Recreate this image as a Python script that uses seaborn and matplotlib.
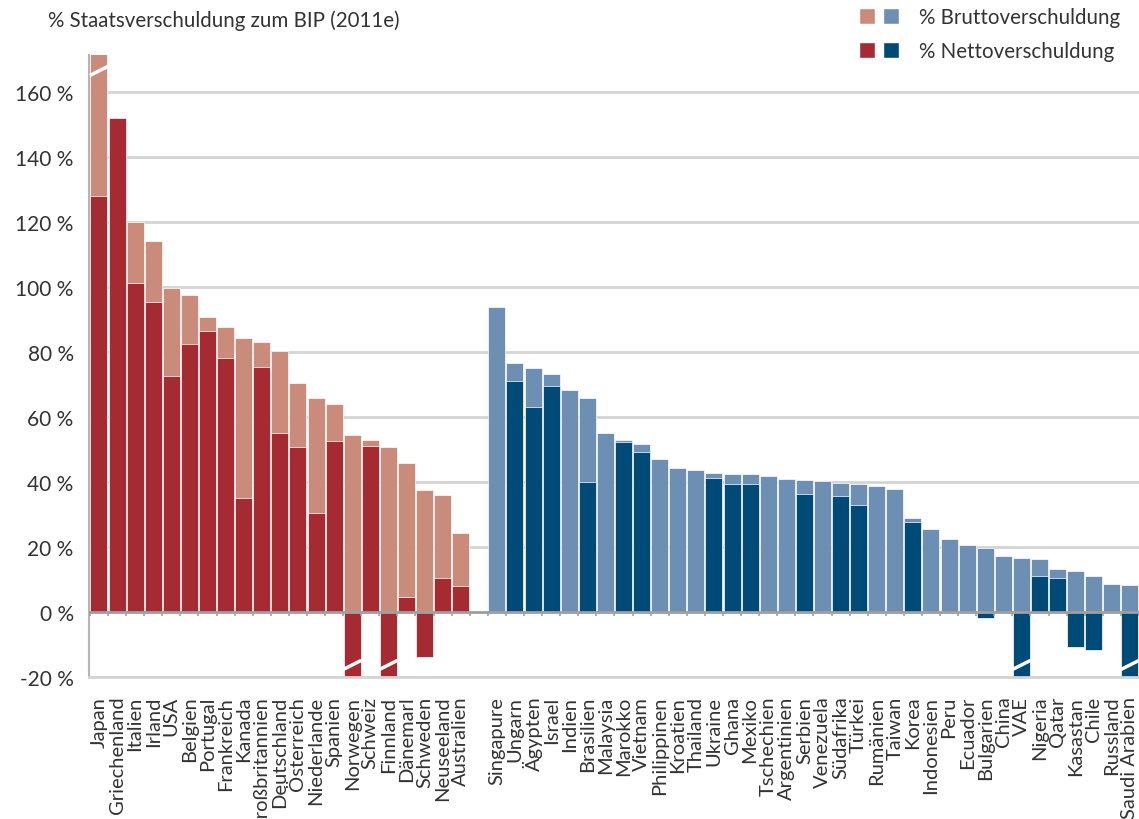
import matplotlib
matplotlib.use("Agg")
import matplotlib.pyplot as plt
from matplotlib.patches import Patch
from matplotlib.legend_handler import HandlerTuple
import numpy as np
import pandas as pd
import seaborn as sns

sns.set_style("white")
plt.rcParams["font.family"] = ["Lato", "DejaVu Sans"]

# Industrieländer
ind_laender = ["Japan", "Griechenland", "Italien", "Irland", "USA", "Belgien", "Portugal",
               "Frankreich", "Kanada", "Großbritannien", "Deutschland", "Österreich",
               "Niederlande", "Spanien", "Norwegen", "Schweiz", "Finnland", "Dänemarl",
               "Schweden", "Neuseeland", "Australien"]
ind_brutto = [230, 152, 120, 114.2, 99.7, 97.5, 90.8, 87.7, 84.3, 83.1, 80.3, 70.5,
              65.8, 64, 54.5, 52.9, 50.8, 45.8, 37.5, 36, 24.3]
ind_netto = [128, 152, 101.2, 95.4, 72.6, 82.5, 86.5, 78.2, 35.2, 75.4, 55.1, 50.8,
             30.5, 52.6, -160, 51.1, -50, 4.6, -13.8, 10.5, 8]

# Schwellenländer
em_laender = ["Singapure", "Ungarn", "Ägypten", "Israel", "Indien", "Brasilien", "Malaysia",
              "Marokko", "Vietnam", "Philippinen", "Kroatien", "Thailand", "Ukraine", "Ghana",
              "Mexiko", "Tschechien", "Argentinien", "Serbien", "Venezuela", "Südafrika",
              "Türkei", "Rumänien", "Taiwan", "Korea", "Indonesien", "Peru", "Ecuador",
              "Bulgarien", "China", "VAE", "Nigeria", "Qatar", "Kasastan", "Chile",
              "Russland", "Saudi Arabien"]
em_brutto = [93.8, 76.6, 75.1, 73.2, 68.3, 65.8, 55.1, 52.9, 51.7, 47.1, 44.3, 43.7,
             42.8, 42.5, 42.5, 41.8, 40.9, 40.6, 40.3, 39.7, 39.4, 38.8, 37.8, 28.9,
             25.5, 22.5, 20.6, 19.7, 17.2, 16.6, 16.3, 13.2, 12.6, 11.1, 8.6, 8.3]
em_netto = [np.nan, 71.1, 63.1, 69.5, np.nan, 40, np.nan, 52.3, 49.2, np.nan, np.nan, np.nan,
            41.2, 39.4, 39.4, np.nan, np.nan, 36.3, np.nan, 35.7, 32.9, np.nan, np.nan, 27.7,
            np.nan, np.nan, np.nan, -1.8, np.nan, -30, 11.1, 10.5, -10.8, -11.7, np.nan, -40]

rot_hell, rot_dunkel = "#cb8b7a", "#a62a32"
blau_hell, blau_dunkel = "#6e8fb4", "#004a78"

df = pd.concat([
    pd.DataFrame({"land": ind_laender, "brutto": ind_brutto, "netto": ind_netto, "gruppe": "ind"}),
    pd.DataFrame({"land": em_laender, "brutto": em_brutto, "netto": em_netto, "gruppe": "em"}),
], ignore_index=True)

# leere Spalte zwischen den Gruppen
order = ind_laender + [" "] + em_laender
ymin, ymax = -20, 171.4

fig = plt.figure(figsize=(11.39, 8.20), dpi=100)
ax = fig.add_axes([89 / 1139, 1 - 678 / 820, 1050 / 1139, 622 / 820])

sns.barplot(data=df, x="land", y="brutto", hue="gruppe", order=order, hue_order=["ind", "em"],
            palette={"ind": rot_hell, "em": blau_hell}, dodge=False, width=0.94,
            saturation=1, edgecolor="white", linewidth=0.5, legend=False, ax=ax, zorder=2)
sns.barplot(data=df.dropna(subset=["netto"]), x="land", y="netto", hue="gruppe", order=order,
            hue_order=["ind", "em"], palette={"ind": rot_dunkel, "em": blau_dunkel},
            dodge=False, width=0.94, saturation=1, edgecolor="white", linewidth=0.5,
            legend=False, ax=ax, zorder=2)

ax.set_xlim(-0.55, len(order) - 0.5)
ax.set_ylim(ymin, ymax)
ax.set_xlabel("")
ax.set_ylabel("")

# Bruchstriche bei abgeschnittenen Balken
for col in ["brutto", "netto"]:
    for land, v in zip(df["land"], df[col]):
        pos = order.index(land)
        if v > ymax:
            y0 = ymax - 4.9
        elif v < ymin:
            y0 = ymin + 3.7
        else:
            continue
        ax.plot([pos - 0.5, pos + 0.5], [y0 - 1.4, y0 + 1.4], color="white", lw=2.5,
                solid_capstyle="butt", zorder=4)

# Nulllinie mit kleinen Strichen zwischen den Balken
ax.axhline(0, color="#a0a0a0", lw=2, zorder=3)
ax.vlines(np.arange(-0.5, len(order)), -1.3, 0, color="#a0a0a0", lw=1.2, zorder=3)

yt = list(range(-20, 161, 20))
ax.set_yticks(yt)
ax.set_yticklabels([f"{v} %" for v in yt])
ax.yaxis.grid(True, color="#d4d4d4", lw=2)
ax.set_axisbelow(True)
ax.tick_params(axis="y", length=6, width=1.5, color="#b0b0b0", labelsize=15,
               labelcolor="#333333", pad=5)
ax.tick_params(axis="x", length=0, pad=13.5, labelsize=14.5, labelcolor="#333333",
               rotation=90)

for s in ["top", "right"]:
    ax.spines[s].set_visible(False)
ax.spines["left"].set_color("#b5b5b5")
ax.spines["left"].set_linewidth(1.5)
ax.spines["bottom"].set_color("#d4d4d4")
ax.spines["bottom"].set_linewidth(2)

fig.text(48 / 1139, 1 - 21 / 820, "% Staatsverschuldung zum BIP (2011e)", ha="left",
         va="center", fontsize=14.8, color="#333333")

handles = [(Patch(fc=rot_hell), Patch(fc=blau_hell)),
           (Patch(fc=rot_dunkel), Patch(fc=blau_dunkel))]
fig.legend(handles=handles, labels=["% Bruttoverschuldung", "% Nettoverschuldung"],
           handler_map={tuple: HandlerTuple(ndivide=None, pad=0.4)},
           loc="upper right", bbox_to_anchor=(1122 / 1139, 1 - 6 / 820), frameon=False,
           fontsize=14.8, handlelength=1.95, handleheight=0.8, handletextpad=0.95,
           labelspacing=0.68, borderaxespad=0, borderpad=0.1, labelcolor="#333333")

fig.savefig("out.png", dpi=100)
